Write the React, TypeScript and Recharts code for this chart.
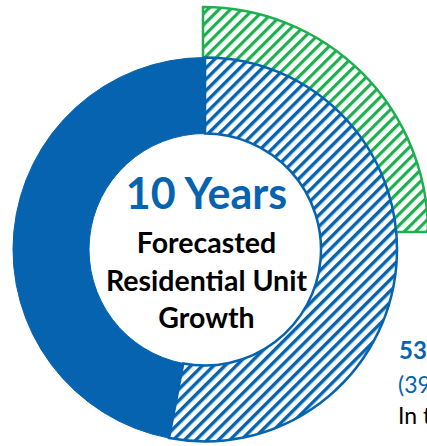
import React from 'react';
import {PieChart, Pie, Cell} from 'recharts';

// ring: hatched = forecasted growth, solid = existing units
const ringNames = ['Forecasted', 'Existing'];
const ringValues = [53, 47];

// outer green quarter (growth highlight)
const growthNames = ['Growth', 'Rest'];
const growthValues = [25, 75];

const centerTitle = '10 Years';
const centerLines = ['Forecasted', 'Residential Unit', 'Growth'];
const sideLines = ['53,000', '(39%)', 'In the'];

const BLUE = '#0563AF';
const GREEN = '#1DB04F';

const ringData = ringNames.map((name, i) => ({name, value: ringValues[i]}));
const growthData = growthNames.map((name, i) => ({name, value: growthValues[i]}));

const font = 'Lato, "Open Sans", sans-serif';

const App: React.FC = () => {
    return (
        <div style={{position: 'absolute', left: 0, top: 0, width: 427, height: 446, background: '#fff', overflow: 'hidden'}}>
            <svg width={0} height={0} style={{position: 'absolute'}}>
                <defs>
                    <pattern id="hatchBlue" patternUnits="userSpaceOnUse" width={8} height={8}
                             patternTransform="rotate(45)">
                        <rect width={8} height={8} fill="#fff"/>
                        <rect x={0} y={0} width={3.4} height={8} fill={BLUE}/>
                    </pattern>
                    <pattern id="hatchGreen" patternUnits="userSpaceOnUse" width={8} height={8}
                             patternTransform="rotate(45)">
                        <rect width={8} height={8} fill="#fff"/>
                        <rect x={0} y={0} width={3.2} height={8} fill={GREEN}/>
                    </pattern>
                </defs>
            </svg>
            <PieChart width={427} height={446} margin={{top: 0, right: 0, bottom: 0, left: 0}}>
                <Pie
                    data={growthData}
                    dataKey="value"
                    cx={203}
                    cy={232}
                    innerRadius={150}
                    outerRadius={225}
                    startAngle={90}
                    endAngle={-270}
                    isAnimationActive={false}
                    stroke="none"
                >
                    <Cell fill="url(#hatchGreen)" stroke={GREEN} strokeWidth={2.5}/>
                    <Cell fill="none" stroke="none"/>
                </Pie>
                <Pie
                    data={ringData}
                    dataKey="value"
                    cx={205}
                    cy={249.5}
                    innerRadius={116}
                    outerRadius={192}
                    startAngle={90}
                    endAngle={-270}
                    isAnimationActive={false}
                >
                    <Cell fill="url(#hatchBlue)" stroke={BLUE} strokeWidth={2.5}/>
                    <Cell fill={BLUE} stroke={BLUE} strokeWidth={1}/>
                </Pie>
            </PieChart>
            <svg width={427} height={446} style={{position: 'absolute', left: 0, top: 0, pointerEvents: 'none'}}>
                <text x={206.5} y={209} textAnchor="middle" fontFamily={font} fontWeight={700} fontSize={43}
                      fill={BLUE}>{centerTitle}</text>
                {centerLines.map((t, i) => (
                    <text key={t} x={206.5} y={253 + i * 37.5} textAnchor="middle" fontFamily={font}
                          fontWeight={700} fontSize={28.5} fill="#000">{t}</text>
                ))}
                <text x={399} y={359} fontFamily={font} fontWeight={700} fontSize={24} fill={BLUE}>{sideLines[0]}</text>
                <text x={398} y={393} fontFamily={font} fontSize={23} fill={BLUE}>{sideLines[1]}</text>
                <text x={398} y={424} fontFamily={font} fontSize={23} fill="#000">{sideLines[2]}</text>
            </svg>
        </div>
    );
};

export default App;
